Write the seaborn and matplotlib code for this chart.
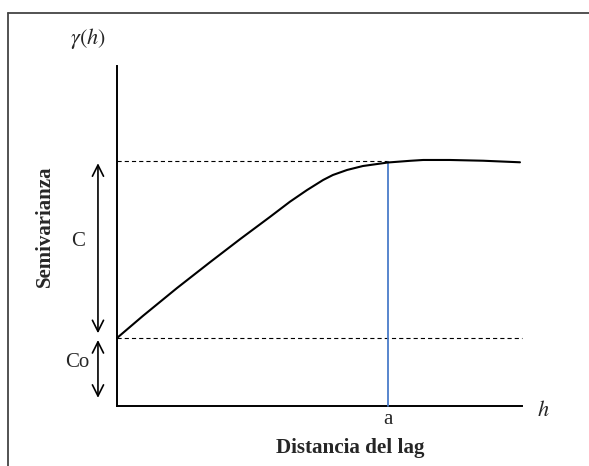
import matplotlib
matplotlib.use("Agg")
import matplotlib.pyplot as plt
from matplotlib.lines import Line2D
import seaborn as sns
import pandas as pd

# ---- data (diagram units: lag distance h, semivariance gamma) ----
lag = [0.0, 0.64, 1.48, 2.30, 3.04, 3.78, 4.27, 4.69, 5.09, 5.33, 5.68, 6.07,
       6.69, 7.24, 7.56, 8.22, 9.04, 9.95]
gamma = [1.0, 1.325, 1.734, 2.116, 2.454, 2.782, 3.004, 3.175, 3.324, 3.397,
         3.471, 3.529, 3.581, 3.606, 3.618, 3.618, 3.607, 3.584]
nugget = 1.0      # Co
sill = 3.60       # Co + C
rng = 6.69        # a
x_max = 10.0
y_max = 5.0

sns.set_style("white")
plt.rcParams["lines.scale_dashes"] = False
plt.rcParams["mathtext.fontset"] = "stix"
serif = ["Liberation Serif", "DejaVu Serif"]

fig = plt.figure(figsize=(5.89, 4.66), dpi=100)
ax = fig.add_axes([0, 0, 1, 1])
# map: x px = 117 + 40.5*x ; y px = 406 - 68*y
ax.set_xlim(-117 / 40.5, (589 - 117) / 40.5)
ax.set_ylim(-60 / 68, 406 / 68)
ax.set_facecolor("white")

df = pd.DataFrame({"h": lag, "g": gamma})
sns.lineplot(data=df, x="h", y="g", ax=ax, color="black", linewidth=1.5,
             zorder=4, solid_joinstyle="round")

# axes as spines
for s in ["top", "right"]:
    ax.spines[s].set_visible(False)
ax.spines["left"].set_position(("data", 0))
ax.spines["bottom"].set_position(("data", 0))
ax.spines["left"].set_bounds(0, y_max)
ax.spines["bottom"].set_bounds(0, x_max)
for s in ["left", "bottom"]:
    ax.spines[s].set_color("black")
    ax.spines[s].set_linewidth(1.4)
ax.set_xticks([])
ax.set_yticks([])
ax.set_xlabel("")
ax.set_ylabel("")

# dashed reference lines
ax.plot([0, rng], [sill, sill], color="black", lw=0.8, dashes=(3, 2.2))
ax.plot([0, x_max], [nugget, nugget], color="black", lw=0.8, dashes=(3, 2.2))

# range line
ax.plot([rng, rng], [0, 3.59], color="#4a7cc9", lw=1.3, zorder=3)

# double arrows
ax_x = -0.47
ax.annotate("", xy=(ax_x, 3.57), xytext=(ax_x, 1.07),
            arrowprops=dict(arrowstyle="<->", color="black", lw=1.2,
                            mutation_scale=20, shrinkA=0, shrinkB=0),
            annotation_clip=False)
ax.annotate("", xy=(ax_x, 0.97), xytext=(ax_x, 0.12),
            arrowprops=dict(arrowstyle="<->", color="black", lw=1.2,
                            mutation_scale=20, shrinkA=0, shrinkB=0),
            annotation_clip=False)

# texts
ax.text(-0.95, 2.42, "C", family=serif, fontsize=15, ha="center", va="center")
ax.text(-0.97, 0.64, "Co", family=serif, fontsize=15, ha="center", va="center")
ax.text(-1.78, 2.65, "Semivarianza", family=serif, fontsize=15, fontweight="bold",
        rotation=90, ha="center", va="center")
ax.text(-0.72, 5.41, r"$\gamma(h)$", fontsize=16, ha="center", va="center")
ax.text(10.52, -0.06, r"$h$", fontsize=16, ha="center", va="center")
ax.text(rng, -0.2, "a", family=serif, fontsize=15, ha="center", va="center")
ax.text(5.75, -0.62, "Distancia del lag", family=serif, fontsize=15.2,
        fontweight="bold", ha="center", va="center")

# page border
fx = 8 / 589
fy = 1 - 13 / 466
fig.add_artist(Line2D([fx, fx], [0, fy], transform=fig.transFigure, color="#444444", lw=1.3))
fig.add_artist(Line2D([fx, 1], [fy, fy], transform=fig.transFigure, color="#444444", lw=1.3))

fig.savefig("out.png", dpi=100)
